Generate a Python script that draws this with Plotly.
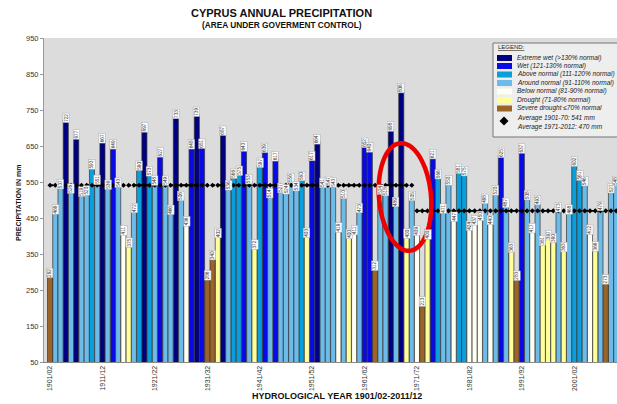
import math
import plotly.graph_objects as go

# ---------------- data ----------------
years = [f"{y}/{(y + 1) % 100:02d}" for y in range(1901, 2012)]

precip = [
    292, 469, 537, 722, 526, 677, 519, 520, 593, 551,
    667, 536, 649, 543, 411, 375, 472, 590, 697, 573,
    548, 627, 549, 466, 733, 506, 436, 648, 739, 651,
    286, 340, 402, 687, 536, 566, 575, 643, 553, 372,
    597, 639, 514, 617, 527, 524, 556, 534, 560, 403,
    617, 664, 541, 547, 543, 419, 510, 400, 411, 473,
    652, 640, 312, 524, 518, 698, 489, 806, 400, 505,
    409, 213, 400, 621, 566, 471, 550, 447, 581, 575,
    424, 437, 450, 498, 440, 520, 625, 487, 363, 283,
    637, 508, 417, 493, 381, 397, 390, 473, 363, 468,
    602, 561, 546, 412, 366, 479, 273, 527, 548, 494,
    588,
]

category = [
    "SD", "N", "N", "EW", "N", "EW", "N", "N", "AN", "N",
    "EW", "N", "W", "N", "BN", "D", "N", "AN", "EW", "AN",
    "N", "W", "N", "N", "EW", "N", "BN", "W", "EW", "W",
    "SD", "SD", "D", "EW", "N", "AN", "AN", "W", "N", "D",
    "AN", "W", "N", "W", "N", "N", "N", "N", "AN", "D",
    "W", "EW", "N", "N", "N", "BN", "N", "D", "BN", "N",
    "W", "W", "SD", "N", "N", "EW", "N", "EW", "D", "N",
    "BN", "SD", "D", "W", "AN", "N", "N", "BN", "AN", "AN",
    "BN", "BN", "BN", "N", "BN", "N", "W", "N", "D", "SD",
    "W", "N", "BN", "N", "D", "D", "D", "N", "D", "N",
    "AN", "AN", "N", "BN", "D", "N", "SD", "N", "N", "N",
    "AN",
]

cat_codes = ["EW", "W", "AN", "N", "BN", "D", "SD"]
cat_names = [
    "Extreme wet (>130% normal)",
    "Wet (121-130% normal)",
    "Above normal (111-120% normal)",
    "Around normal (91-110% normal)",
    "Below normal (81-90% normal)",
    "Drought (71-80% normal)",
    "Severe drought \u226470% normal",
]
cat_colors = ["#000080", "#0a0ae6", "#0a9fdc", "#6cbbe9", "#fffff2", "#ffff99", "#9c6428"]

avg_periods = ["Average 1901-70: 541 mm", "Average 1971-2012: 470 mm"]
avg_values = [541, 470]
avg_split = 70  # first year index of second period

decade_ticks = [f"{y}/{(y + 1) % 100:02d}" for y in range(1901, 2012, 10)]

# ---------------- layout geometry (pixels) ----------------
W, H = 617, 404
L, R, T, B = 44, 617, 38, 362


def px(xp):
    return (xp - L) / (R - L)


def py(yp):
    return (B - yp) / (B - T)


fig = go.Figure()

for code, name, col in zip(cat_codes, cat_names, cat_colors):
    yv = [v if c == code else None for v, c in zip(precip, category)]
    fig.add_trace(go.Bar(
        x=years, y=yv, name=name,
        marker=dict(color=col, line=dict(color="#333333", width=0.7)),
        showlegend=False,
    ))

# average lines
fig.add_trace(go.Scatter(
    x=years[:avg_split], y=[avg_values[0]] * avg_split, mode="lines+markers",
    line=dict(color="black", width=1.8, dash="dot"),
    marker=dict(symbol="diamond", size=4, color="black"), showlegend=False,
))
fig.add_trace(go.Scatter(
    x=years[avg_split:], y=[avg_values[1]] * (len(years) - avg_split), mode="lines+markers",
    line=dict(color="black", width=1.8, dash="dot"),
    marker=dict(symbol="diamond", size=4, color="black"), showlegend=False,
))

annotations = []
# value labels
for yr, v in zip(years, precip):
    annotations.append(dict(
        x=yr, y=v, xref="x", yref="y", text=str(v), textangle=-90,
        showarrow=False, yanchor="bottom", yshift=-3,
        font=dict(size=4.7, color="#333333", family="Liberation Sans"),
        bgcolor="white", bordercolor="#aaaaaa", borderwidth=0.5, borderpad=0.5,
    ))

# titles
annotations.append(dict(
    x=px(281), y=py(13), xref="paper", yref="paper", showarrow=False,
    text="<b>CYPRUS ANNUAL PRECIPITATION</b>", xanchor="center", yanchor="middle",
    font=dict(size=11, color="#111111", family="Liberation Sans"),
))
annotations.append(dict(
    x=px(282), y=py(25.5), xref="paper", yref="paper", showarrow=False,
    text="<b>(AREA UNDER GOVERMENT CONTROL)</b>", xanchor="center", yanchor="middle",
    font=dict(size=8.3, color="#111111", family="Liberation Sans"),
))
annotations.append(dict(
    x=px(337), y=py(396), xref="paper", yref="paper", showarrow=False,
    text="<b>HYDROLOGICAL YEAR 1901/02-2011/12</b>", xanchor="center", yanchor="middle",
    font=dict(size=9, color="#111111", family="Liberation Sans"),
))
annotations.append(dict(
    x=px(18), y=py(203), xref="paper", yref="paper", showarrow=False,
    text="<b>PRECIPITATION IN mm</b>", textangle=-90, xanchor="center", yanchor="middle",
    font=dict(size=7, color="#111111", family="Liberation Sans"),
))

shapes = []
# legend box
shapes.append(dict(type="rect", xref="paper", yref="paper",
                   x0=px(493), x1=px(625), y0=py(43), y1=py(137),
                   fillcolor="#eeeeee", line=dict(color="#777777", width=1), layer="above"))
annotations.append(dict(
    x=px(496), y=py(46.5), xref="paper", yref="paper", showarrow=False,
    text="<u>LEGEND:</u>", xanchor="left", yanchor="middle",
    font=dict(size=6, color="#222222", family="Liberation Sans"),
))
entry_y = [58, 66, 74.5, 83, 91.5, 100, 108.5]
for yy, name, col in zip(entry_y, cat_names, cat_colors):
    shapes.append(dict(type="rect", xref="paper", yref="paper",
                       x0=px(497), x1=px(512), y0=py(yy - 3), y1=py(yy + 3),
                       fillcolor=col, line=dict(width=0), layer="above"))
    annotations.append(dict(
        x=px(515), y=py(yy), xref="paper", yref="paper", showarrow=False,
        text=name, xanchor="left", yanchor="middle",
        font=dict(size=6.5, color="#222222", family="Liberation Sans", style="italic"),
    ))
for yy, name in zip([117.5, 126.5], avg_periods):
    annotations.append(dict(
        x=px(515), y=py(yy), xref="paper", yref="paper", showarrow=False,
        text=name, xanchor="left", yanchor="middle",
        font=dict(size=6.5, color="#222222", family="Liberation Sans", style="italic"),
    ))
# diamond symbol in legend
cx, cy, d = 504, 121, 4.5
shapes.append(dict(type="path", xref="paper", yref="paper",
                   path=f"M{px(cx)},{py(cy - d)} L{px(cx + d)},{py(cy)} L{px(cx)},{py(cy + d)} L{px(cx - d)},{py(cy)} Z",
                   fillcolor="black", line=dict(width=0), layer="above"))

# red ellipse highlight
ecx, ecy, ea, eb, rot = 405, 197, 26, 54, math.radians(-5)
pts = []
for k in range(73):
    t = 2 * math.pi * k / 72
    ex, ey = ea * math.cos(t), eb * math.sin(t)
    rx = ex * math.cos(rot) - ey * math.sin(rot)
    ry = ex * math.sin(rot) + ey * math.cos(rot)
    pts.append((px(ecx + rx), py(ecy + ry)))
path = "M" + " L".join(f"{a:.5f},{b:.5f}" for a, b in pts) + " Z"
shapes.append(dict(type="path", xref="paper", yref="paper", path=path,
                   line=dict(color="#ee0000", width=4.5), layer="above"))

fig.update_layout(
    width=W, height=H,
    margin=dict(l=L, r=W - R, t=T, b=H - B, pad=0),
    paper_bgcolor="white", plot_bgcolor="#dcdcdc",
    barmode="overlay", bargap=0.03,
    showlegend=False,
    annotations=annotations, shapes=shapes,
    xaxis=dict(
        type="category", categoryorder="array", categoryarray=years,
        range=[-1.15, 108.15], tickmode="array", tickvals=decade_ticks,
        tickangle=-90, tickfont=dict(size=7, color="#333333", family="Liberation Sans"),
        showgrid=False, showline=True, linecolor="#888888", ticks="", zeroline=False,
    ),
    yaxis=dict(
        range=[50, 950], dtick=100, tick0=50,
        tickfont=dict(size=7.5, color="#333333", family="Liberation Sans"),
        showgrid=False, showline=True, linecolor="#999999", mirror=True,
        ticks="outside", ticklen=3, tickcolor="#999999", zeroline=False,
    ),
)

fig.write_html(
    "out.html",
    config={"displayModeBar": False},
    post_script="document.body.style.margin='0';document.body.style.overflow='hidden';",
)
